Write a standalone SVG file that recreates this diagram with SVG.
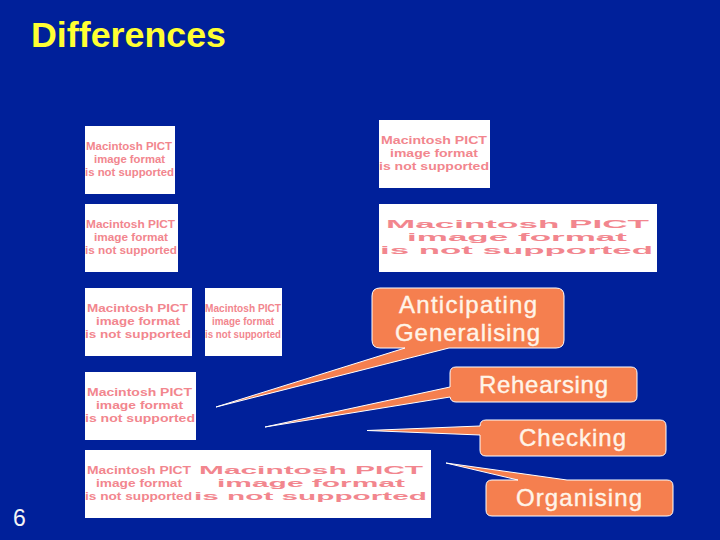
<svg xmlns="http://www.w3.org/2000/svg" width="720" height="540" viewBox="0 0 720 540">
<style>
text{font-family:"Liberation Sans",Arial,sans-serif}
.bg{fill:#00209a}
.pict{fill:#fff}
.p{font-size:11.300px;font-weight:bold;fill:#f2868e}
.t{fill:#f57f4f;stroke:#fff;stroke-width:1;stroke-linejoin:round}
.l{font-size:24px;fill:#fff4e8;stroke:#fff4e8;stroke-width:.4}
</style>
<rect class="bg" width="720" height="540"/>
<text x="31" y="47" font-size="35.500" font-weight="bold" fill="#ffff33" textLength="195" lengthAdjust="spacingAndGlyphs">Differences</text>
<text x="13" y="525.500" font-size="23" fill="#f4f4f4">6</text>
<g id="pict1"><rect class="pict" x="85" y="126" width="90" height="68"/>
<text class="p" x="86" y="150" textLength="86" lengthAdjust="spacingAndGlyphs">Macintosh PICT</text><text class="p" x="94" y="163" textLength="71" lengthAdjust="spacingAndGlyphs">image format</text><text class="p" x="85" y="176" textLength="89" lengthAdjust="spacingAndGlyphs">is not supported</text></g>
<g id="pict2"><rect class="pict" x="85" y="204" width="93" height="68"/>
<text class="p" x="86" y="228" textLength="89" lengthAdjust="spacingAndGlyphs">Macintosh PICT</text><text class="p" x="94" y="241" textLength="74" lengthAdjust="spacingAndGlyphs">image format</text><text class="p" x="85" y="254" textLength="92" lengthAdjust="spacingAndGlyphs">is not supported</text></g>
<g id="pict3"><rect class="pict" x="85" y="288" width="107" height="68"/>
<text class="p" x="87" y="312" textLength="101" lengthAdjust="spacingAndGlyphs">Macintosh PICT</text><text class="p" x="96" y="325" textLength="84" lengthAdjust="spacingAndGlyphs">image format</text><text class="p" x="85" y="338" textLength="106" lengthAdjust="spacingAndGlyphs">is not supported</text></g>
<g id="pict4"><rect class="pict" x="205" y="288" width="77" height="68"/>
<text class="p" x="205" y="312" textLength="76" lengthAdjust="spacingAndGlyphs">Macintosh PICT</text><text class="p" x="212" y="325" textLength="62" lengthAdjust="spacingAndGlyphs">image format</text><text class="p" x="205" y="338" textLength="76" lengthAdjust="spacingAndGlyphs">is not supported</text></g>
<g id="pict5"><rect class="pict" x="85" y="372" width="111" height="68"/>
<text class="p" x="87" y="396" textLength="105" lengthAdjust="spacingAndGlyphs">Macintosh PICT</text><text class="p" x="96" y="409" textLength="87" lengthAdjust="spacingAndGlyphs">image format</text><text class="p" x="85" y="422" textLength="110" lengthAdjust="spacingAndGlyphs">is not supported</text></g>
<g id="pict6"><rect class="pict" x="85" y="450" width="346" height="68"/>
<text class="p" x="87" y="474" textLength="104" lengthAdjust="spacingAndGlyphs">Macintosh PICT</text><text class="p" x="96" y="487" textLength="86" lengthAdjust="spacingAndGlyphs">image format</text><text class="p" x="85" y="500" textLength="107" lengthAdjust="spacingAndGlyphs">is not supported</text></g>
<g id="pict7"><text class="p" x="199" y="474" textLength="224" lengthAdjust="spacingAndGlyphs">Macintosh PICT</text><text class="p" x="217" y="487" textLength="188" lengthAdjust="spacingAndGlyphs">image format</text><text class="p" x="194" y="500" textLength="233" lengthAdjust="spacingAndGlyphs">is not supported</text></g>
<g id="pict8"><rect class="pict" x="379" y="120" width="111" height="68"/>
<text class="p" x="381" y="144" textLength="106" lengthAdjust="spacingAndGlyphs">Macintosh PICT</text><text class="p" x="390" y="157" textLength="88" lengthAdjust="spacingAndGlyphs">image format</text><text class="p" x="379" y="170" textLength="110" lengthAdjust="spacingAndGlyphs">is not supported</text></g>
<g id="pict9"><rect class="pict" x="379" y="204" width="278" height="68"/>
<text class="p" x="386" y="228" textLength="263" lengthAdjust="spacingAndGlyphs">Macintosh PICT</text><text class="p" x="407" y="241" textLength="220" lengthAdjust="spacingAndGlyphs">image format</text><text class="p" x="380" y="254" textLength="273" lengthAdjust="spacingAndGlyphs">is not supported</text></g>
<g id="anticipating"><path class="t" d="M380 288H556Q564 288 564 296V340Q564 348 556 348H449L216 407L405 348H380Q372 348 372 340V296Q372 288 380 288Z"/>
<text class="l" x="399" y="313" textLength="138" lengthAdjust="spacing">Anticipating</text><text class="l" x="395" y="341" textLength="145" lengthAdjust="spacing">Generalising</text></g>
<g id="rehearsing"><path class="t" d="M456 367H631Q637 367 637 373V396Q637 402 631 402H456Q451 402 450 397L265 427L450 387V373Q450 367 456 367Z"/>
<text class="l" x="479" y="393" textLength="129" lengthAdjust="spacing">Rehearsing</text></g>
<g id="checking"><path class="t" d="M486 420H660Q666 420 666 426V450Q666 456 660 456H486Q480 456 480 450V435L367 430.500L480 426Q480 420 486 420Z"/>
<text class="l" x="519" y="446" textLength="107" lengthAdjust="spacing">Checking</text></g>
<g id="organising"><path class="t" d="M492 480H518L446 463L567 480H667Q673 480 673 486V510Q673 516 667 516H492Q486 516 486 510V486Q486 480 492 480Z"/>
<text class="l" x="516" y="506" textLength="126" lengthAdjust="spacing">Organising</text></g>
</svg>
